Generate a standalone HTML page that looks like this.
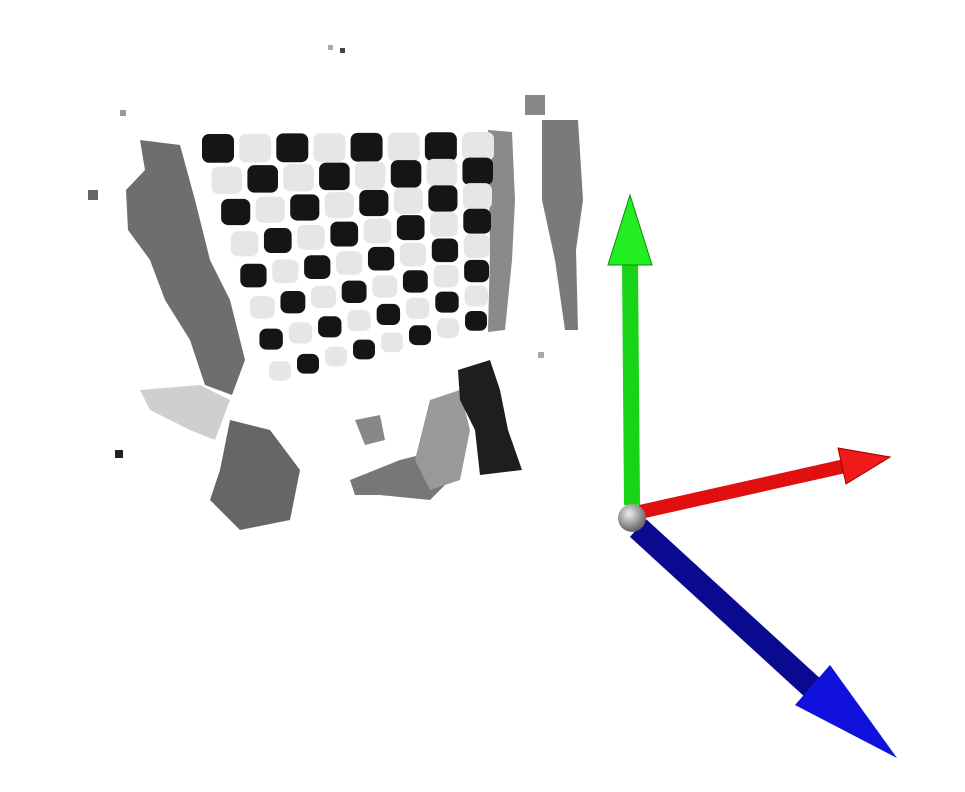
<!DOCTYPE html>
<html><head><meta charset="utf-8"><style>
html,body{margin:0;padding:0;background:#fff;width:965px;height:792px;overflow:hidden}
svg{display:block}
</style></head><body>
<svg id="scene" width="965" height="792" viewBox="0 0 965 792" xmlns="http://www.w3.org/2000/svg">
<defs>
<radialGradient id="sph" cx="0.4" cy="0.35" r="0.7"><stop offset="0" stop-color="#eee"/><stop offset="1" stop-color="#555"/></radialGradient>
</defs>
<g id="cloud">
<polygon fill="#6e6e6e" points="140,140 180,145 195,200 210,260 230,300 245,360 232,395 205,385 190,340 165,300 150,260 128,230 126,190 145,170"/>
<polygon fill="#8a8a8a" points="488,130 512,132 515,200 512,260 505,330 488,332 490,250"/>
<polygon fill="#7a7a7a" points="542,120 578,120 583,200 576,250 578,330 565,330 555,260 542,200"/>
<polygon fill="#cfcfcf" points="140,390 200,385 230,400 215,440 190,430 150,410"/>
<polygon fill="#666" points="230,420 270,430 300,470 290,520 240,530 210,500 220,470"/>
<polygon fill="#777" points="350,480 400,460 440,450 460,470 430,500 380,495 355,495"/>
<polygon fill="#999" points="430,400 460,390 470,430 460,480 430,490 415,460"/>
<polygon fill="#1e1e1e" points="458,370 490,360 500,390 508,430 522,470 480,475 475,430 460,400"/>
<polygon fill="#888" points="355,420 380,415 385,440 365,445"/>
<rect x="328" y="45" width="5" height="5" fill="#aaa"/>
<rect x="340" y="48" width="5" height="5" fill="#444"/>
<rect x="120" y="110" width="6" height="6" fill="#999"/>
<rect x="525" y="95" width="20" height="20" fill="#888"/>
<rect x="88" y="190" width="10" height="10" fill="#666"/>
<rect x="115" y="450" width="8" height="8" fill="#222"/>
<rect x="538" y="352" width="6" height="6" fill="#aaa"/>
</g>
<g id="board"></g>
<g id="axes">
<line x1="632" y1="505" x2="630" y2="262" stroke="#17d417" stroke-width="16"/>
<polygon fill="#22ee22" stroke="#0a8a0a" points="630,195 652,265 608,265"/>
<line x1="640" y1="512" x2="845" y2="466" stroke="#e01010" stroke-width="14"/>
<polygon fill="#f01a1a" stroke="#900" points="890,457 838,448 846,484"/>
<line x1="638" y1="528" x2="815" y2="690" stroke="#0a0a90" stroke-width="24"/>
<polygon fill="#1111dd" points="897,758 795,705 830,665"/>
<circle cx="632" cy="518" r="14" fill="url(#sph)"/>
</g>
</svg>
<script>
// checkerboard grid values
const rowsCount = [8];
const colsCount = [8];
const darkShade = ["#151515"];
const lightShade = ["#e6e6e6"];
const g = document.getElementById('board');
const TL=[218,150],TR=[478,148],BL=[280,372],BR=[476,322];
function pos(u,v){
  const x=(1-v)*((1-u)*TL[0]+u*TR[0])+v*((1-u)*BL[0]+u*BR[0]);
  const y=(1-v)*((1-u)*TL[1]+u*TR[1])+v*((1-u)*BL[1]+u*BR[1]);
  return [x,y];
}
const R=rowsCount[0],C=colsCount[0];
for(let r=0;r<R;r++){for(let c=0;c<C;c++){
  const p=pos(c/(C-1),r/(R-1));
  const dark=(r+c)%2===0;
  const s=(1-r/(R-1))*16+r/(R-1)*11;
  const el=document.createElementNS('http://www.w3.org/2000/svg','rect');
  
  
  el.setAttribute('x',p[0]-s);el.setAttribute('y',p[1]-s);
  el.setAttribute('width',2*s);el.setAttribute('height',2*s*0.9);
  el.setAttribute('rx',7);
  el.setAttribute('fill',dark?darkShade[0]:lightShade[0]);
  g.appendChild(el);
}}
</script>
</body></html>
